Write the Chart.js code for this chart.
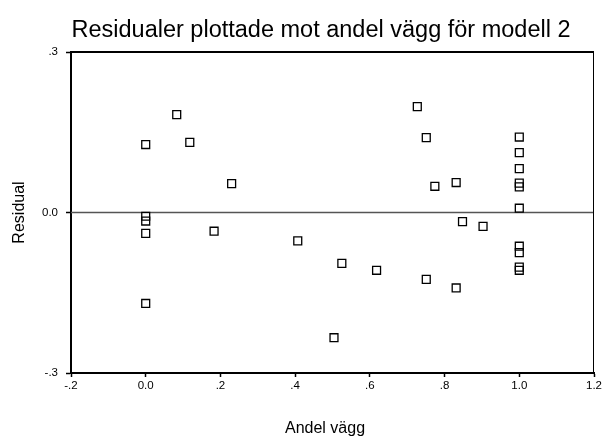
<!DOCTYPE html>
<html>
<head>
<meta charset="utf-8">
<script src="https://cdn.jsdelivr.net/npm/chart.js@4/dist/chart.umd.min.js"></script>
<style>
  html, body { margin: 0; padding: 0; background: #fff; }
  #wrap { width: 604px; height: 440px; }
</style>
</head>
<body>
<div id="wrap"><canvas id="resid-chart" width="604" height="440"></canvas></div>
<script>
(function () {
    'use strict';

    var chartTitle = 'Residualer plottade mot andel vägg för modell 2';
    var xTitle = 'Andel vägg';
    var yTitle = 'Residual';

    // andel vägg (x) and residual (y)
    var andelVagg = [
        0, 0, 0, 0, 0,
        0.083, 0.118, 0.230, 0.183,
        0.407, 0.525, 0.618, 0.504,
        0.727, 0.751, 0.774, 0.831, 0.848, 0.903, 0.751, 0.831,
        1, 1, 1, 1, 1, 1, 1, 1, 1, 1
    ];
    var residual = [
        0.127, -0.007, -0.016, -0.039, -0.170,
        0.183, 0.131, 0.054, -0.035,
        -0.053, -0.095, -0.108, -0.234,
        0.198, 0.140, 0.049, 0.056, -0.017, -0.026, -0.125, -0.141,
        0.141, 0.112, 0.082, 0.055, 0.048, 0.008, -0.063, -0.075, -0.102, -0.108
    ];

    var xTicks = [-0.2, 0, 0.2, 0.4, 0.6, 0.8, 1.0, 1.2];
    var xTickLabels = ['-.2', '0.0', '.2', '.4', '.6', '.8', '1.0', '1.2'];
    var yTicks = [-0.3, 0, 0.3];
    var yTickLabels = ['-.3', '0.0', '.3'];

    var points = andelVagg.map(function (x, i) {
        return { x: x, y: residual[i] };
    });

    var FONT = '"Liberation Sans", Arial, sans-serif';

    var frameAndTitles = {
        id: 'frameAndTitles',
        afterDraw: function (chart) {
            var ctx = chart.ctx;
            var a = chart.chartArea;
            ctx.save();
            ctx.strokeStyle = '#000';
            ctx.lineWidth = 2;
            ctx.beginPath();
            ctx.moveTo(a.left, a.top);
            ctx.lineTo(a.right, a.top);
            ctx.stroke();
            ctx.lineWidth = 1;
            ctx.beginPath();
            ctx.moveTo(a.right - 0.5, a.top);
            ctx.lineTo(a.right - 0.5, a.bottom);
            ctx.stroke();

            ctx.fillStyle = '#000';
            ctx.textAlign = 'center';
            ctx.textBaseline = 'alphabetic';
            ctx.font = '23.5px ' + FONT;
            ctx.fillText(chartTitle, 321, 37);
            ctx.font = '16px ' + FONT;
            ctx.fillText(xTitle, 325, 433);

            ctx.translate(24, (a.top + a.bottom) / 2);
            ctx.rotate(-Math.PI / 2);
            ctx.fillText(yTitle, 0, 0);
            ctx.restore();
        }
    };

    var ctx = document.getElementById('resid-chart').getContext('2d');
    new Chart(ctx, {
        type: 'scatter',
        data: {
            datasets: [
                {
                    label: 'Residual',
                    data: points,
                    pointStyle: 'rect',
                    pointRadius: 5.6,
                    pointHoverRadius: 5.6,
                    pointBorderWidth: 1.3,
                    borderColor: '#000',
                    backgroundColor: 'rgba(0,0,0,0)'
                },
                {
                    type: 'line',
                    label: 'zero',
                    data: [{ x: xTicks[0], y: 0 }, { x: xTicks[xTicks.length - 1], y: 0 }],
                    borderColor: '#555',
                    borderWidth: 1.3,
                    pointRadius: 0
                }
            ]
        },
        options: {
            responsive: false,
            animation: false,
            events: [],
            layout: { padding: { left: 0, right: 10, top: 52, bottom: 0 } },
            plugins: {
                legend: { display: false },
                tooltip: { enabled: false },
                title: { display: false }
            },
            scales: {
                x: {
                    type: 'linear',
                    min: xTicks[0],
                    max: xTicks[xTicks.length - 1],
                    afterBuildTicks: function (s) {
                        s.ticks = xTicks.map(function (v) { return { value: v }; });
                    },
                    afterFit: function (s) { s.height = 67; },
                    grid: {
                        drawOnChartArea: false,
                        drawTicks: true,
                        tickLength: 4,
                        tickWidth: 1.5,
                        tickColor: '#000'
                    },
                    border: { display: true, color: '#000', width: 2 },
                    ticks: {
                        padding: 2,
                        color: '#000',
                        font: { family: FONT, size: 11.5 },
                        maxRotation: 0,
                        callback: function (v, i) { return xTickLabels[i]; }
                    }
                },
                y: {
                    type: 'linear',
                    min: yTicks[0],
                    max: yTicks[yTicks.length - 1],
                    afterBuildTicks: function (s) {
                        s.ticks = yTicks.map(function (v) { return { value: v }; });
                    },
                    afterFit: function (s) { s.width = 71; },
                    grid: {
                        drawOnChartArea: false,
                        drawTicks: true,
                        tickLength: 5,
                        tickWidth: 1.5,
                        tickColor: '#000'
                    },
                    border: { display: true, color: '#000', width: 2 },
                    ticks: {
                        padding: 8,
                        color: '#000',
                        font: { family: FONT, size: 11.5 },
                        callback: function (v, i) { return yTickLabels[i]; }
                    }
                }
            }
        },
        plugins: [frameAndTitles]
    });
})();
</script>
</body>
</html>
